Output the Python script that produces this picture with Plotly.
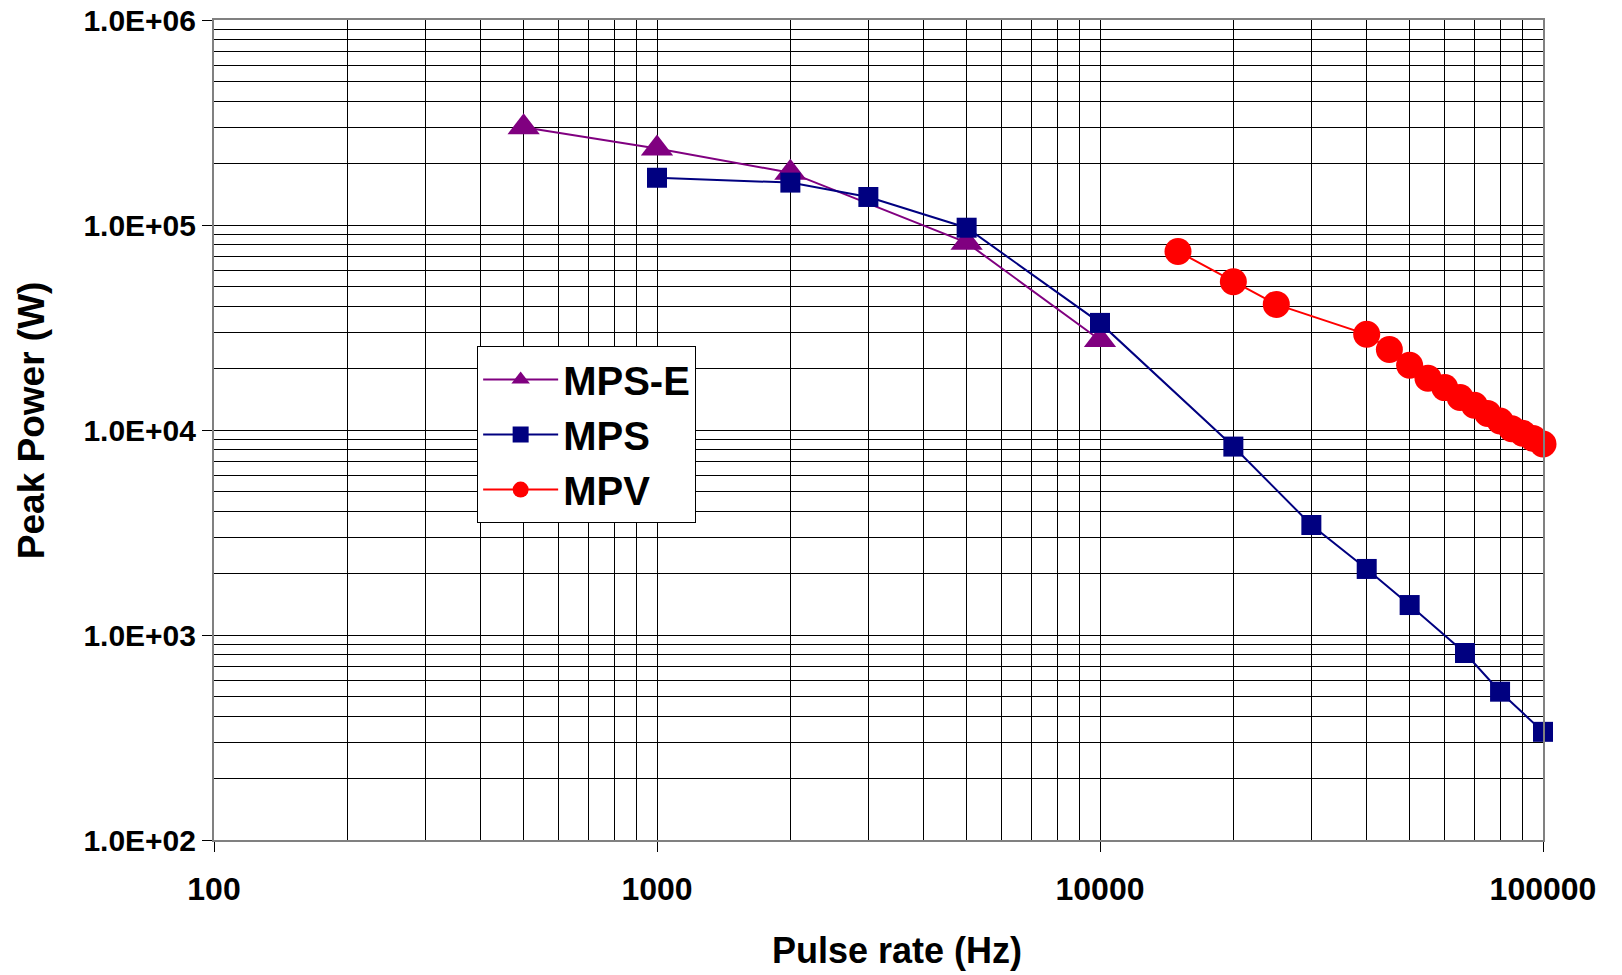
import plotly.graph_objects as go

# ---- data ----
mpse_x = [500, 1000, 2000, 5000, 10000]
mpse_y = [3.0e5, 2.36e5, 1.8e5, 8.2e4, 2.75e4]

mps_x = [1000, 2000, 3000, 5000, 10000, 20000, 30000, 40000, 50000, 66667, 80000, 100000]
mps_y = [1.70e5, 1.61e5, 1.37e5, 9.7e4, 3.33e4, 8.3e3, 3.44e3, 2.10e3, 1.40e3, 817, 529, 337]

mpv_x = [15000, 20000, 25000, 40000, 45000, 50000, 55000, 60000, 65000, 70000,
         75000, 80000, 85000, 90000, 95000, 100000]
mpv_y = [7.43e4, 5.29e4, 4.1e4, 2.93e4, 2.47e4, 2.07e4, 1.79e4, 1.61e4, 1.44e4, 1.32e4,
         1.205e4, 1.107e4, 1.015e4, 9.64e3, 9.1e3, 8.55e3]

x_tickvals = [100, 1000, 10000, 100000]
x_ticktext = ["100", "1000", "10000", "100000"]
y_tickvals = [1e2, 1e3, 1e4, 1e5, 1e6]
y_ticktext = ["1.0E+02", "1.0E+03", "1.0E+04", "1.0E+05", "1.0E+06"]

x_title = "Pulse rate (Hz)"
y_title = "Peak Power (W)"

FONT = "Liberation Sans, Arial, sans-serif"

fig = go.Figure()
fig.add_trace(go.Scatter(
    x=mpse_x, y=mpse_y, name="MPS-E", mode="lines+markers", cliponaxis=False,
    line=dict(color="#800080", width=2),
    marker=dict(symbol="triangle-up", size=28, color="#800080"),
))
fig.add_trace(go.Scatter(
    x=mps_x, y=mps_y, name="MPS", mode="lines+markers", cliponaxis=False,
    line=dict(color="#000080", width=2),
    marker=dict(symbol="square", size=20, color="#000080"),
))
fig.add_trace(go.Scatter(
    x=mpv_x, y=mpv_y, name="MPV", mode="lines+markers", cliponaxis=False,
    line=dict(color="#FF0000", width=2),
    marker=dict(symbol="circle", size=27, color="#FF0000"),
))

axis_common = dict(
    showline=True, linecolor="#808080", linewidth=2, mirror=True,
    showgrid=True, gridcolor="#000000", gridwidth=1,
    ticks="outside", ticklen=10, tickcolor="#000000", tickwidth=1,
    zeroline=False, automargin=False, ticklabeloverflow="allow",
)

fig.update_xaxes(
    type="log", range=[2, 5],
    tickmode="array", tickvals=x_tickvals, ticktext=x_ticktext,
    tickfont=dict(family=FONT, size=32, color="#000000", weight="bold"),
    minor=dict(dtick="D1", showgrid=True, gridcolor="#000000", gridwidth=1, ticks=""),
    ticklabelstandoff=10,
    **axis_common,
)
fig.update_yaxes(
    type="log", range=[2, 6],
    tickmode="array", tickvals=y_tickvals, ticktext=y_ticktext,
    tickfont=dict(family=FONT, size=30, color="#000000", weight="bold"),
    minor=dict(dtick="D1", showgrid=True, gridcolor="#000000", gridwidth=1, ticks=""),
    **axis_common,
)

# plot area: x 214..1543, y 20..840 (1329 x 820)
fig.add_annotation(
    text=x_title, xref="paper", yref="paper", x=0.514, y=-0.135,
    xanchor="center", yanchor="middle", showarrow=False,
    font=dict(family=FONT, size=36, color="#000000", weight="bold"),
)
fig.add_annotation(
    text=y_title, xref="paper", yref="paper", x=-0.1377, y=0.512,
    xanchor="center", yanchor="middle", showarrow=False, textangle=-90,
    font=dict(family=FONT, size=37, color="#000000", weight="bold"),
)

fig.update_layout(
    width=1622, height=975,
    margin=dict(l=214, r=79, t=20, b=135),
    paper_bgcolor="white", plot_bgcolor="white",
    showlegend=True,
    legend=dict(
        x=0.198, y=0.6024, xanchor="left", yanchor="top",
        bgcolor="white", bordercolor="#000000", borderwidth=1,
        font=dict(family=FONT, size=40, color="#000000", weight="bold"),
        itemsizing="trace", itemwidth=75, tracegroupgap=0,
    ),
)

fig.write_html(
    "out.html",
    config={"displayModeBar": False},
    post_script="document.body.style.margin='0px';document.body.style.overflow='hidden';",
)
